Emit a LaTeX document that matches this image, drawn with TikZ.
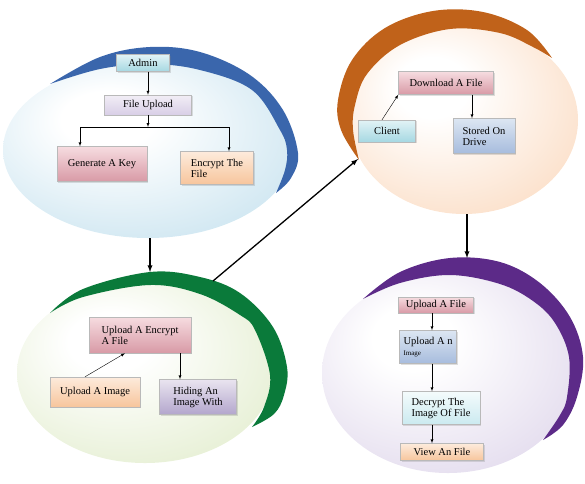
\documentclass[tikz,border=0pt]{standalone}
\usepackage{fontspec}
\setmainfont{Liberation Serif}
\usepackage{tikz}
\usetikzlibrary{shapes.geometric,shadows}

\definecolor{rimblue}{HTML}{3A66AC}
\definecolor{rimorange}{HTML}{C0621A}
\definecolor{rimgreen}{HTML}{0A7A3A}
\definecolor{rimpurple}{HTML}{5C2A88}
\definecolor{stageedge}{HTML}{AFD6E8}
\pgfdeclareradialshading[stageedge]{glow}{\pgfpoint{-8bp}{10bp}}{color(0bp)=(white); color(8bp)=(white); color(50bp)=(stageedge); color(60bp)=(stageedge)}

\begin{document}
\begin{tikzpicture}[x=1pt, y=-1pt]
    \tikzstyle{stage} = [ellipse, draw=none, inner sep=0pt, shading=glow]
    \tikzstyle{box} = [rectangle, draw=gray!55, inner sep=2pt, align=left, font=\fontsize{10.5}{11}\selectfont,
        drop shadow={shadow xshift=1pt, shadow yshift=-1pt, opacity=0.25, fill=gray}]
    \tikzstyle{cyanbox} = [box, top color={rgb,255:red,226;green,243;blue,246}, bottom color={rgb,255:red,166;green,216;blue,226}]
    \tikzstyle{lilacbox} = [box, top color={rgb,255:red,242;green,238;blue,246}, bottom color={rgb,255:red,216;green,206;blue,230}]
    \tikzstyle{pinkbox} = [box, top color={rgb,255:red,246;green,220;blue,224}, bottom color={rgb,255:red,216;green,154;blue,166}]
    \tikzstyle{peachbox} = [box, top color={rgb,255:red,253;green,235;blue,220}, bottom color={rgb,255:red,247;green,197;blue,156}]
    \tikzstyle{bluebox} = [box, top color={rgb,255:red,220;green,230;blue,242}, bottom color={rgb,255:red,167;green,188;blue,221}]
    \tikzstyle{purplebox} = [box, top color={rgb,255:red,233;green,228;blue,240}, bottom color={rgb,255:red,179;green,166;blue,204}]
    \tikzstyle{icebox} = [box, top color={rgb,255:red,244;green,251;blue,252}, bottom color={rgb,255:red,203;green,234;blue,240}]
    \tikzstyle{link} = [->, >=latex, thin, black]
    \tikzstyle{flow} = [->, >=latex, line width=1.3pt, black]

    \useasboundingbox (0,0) rectangle (585,483);

    % the four stages, each with its crescent
    \definecolor{stageedge}{HTML}{AFD6E8}
    \node[stage, minimum width=290pt, minimum height=176pt] (s1) at (148,150) {};
    \fill[rimblue] plot[smooth, tension=0.6] coordinates {(50,84) (100,57) (150,47) (200,52) (250,75) (283,110) (298,153) (291,178) (276,193)}
        -- plot[smooth, tension=0.6] coordinates {(276,193) (285,170) (287,150) (280,130) (252,90) (200,70) (150,64) (100,69) (50,84)} -- cycle;

    \definecolor{stageedge}{HTML}{F9CBA6}
    \node[stage, minimum width=228pt, minimum height=188pt] (s2) at (464,120) {};
    \fill[rimorange] plot[smooth, tension=0.6] coordinates {(359,160) (341,130) (338,100) (352,60) (385,28) (433,11) (483,12) (527,30) (552,58)}
        -- plot[smooth, tension=0.6] coordinates {(552,58) (533,47) (500,33) (450,29) (400,45) (367,74) (355,105) (353,130) (359,160)} -- cycle;

    \definecolor{stageedge}{HTML}{D6E5B8}
    \node[stage, minimum width=256pt, minimum height=180pt] (s3) at (145,373) {};
    \fill[rimgreen] plot[smooth, tension=0.6] coordinates {(50,313) (83,289) (150,272) (200,277) (240,293) (273,327) (287,367) (284,395) (274,414) (252,427)}
        -- plot[smooth, tension=0.6] coordinates {(252,427) (264,407) (270,375) (255,330) (240,315) (200,294) (150,285) (83,297) (50,313)} -- cycle;

    \definecolor{stageedge}{HTML}{D2C6E3}
    \node[stage, minimum width=252pt, minimum height=200pt] (s4) at (448,373) {};
    \fill[rimpurple] plot[smooth, tension=0.6] coordinates {(363,299) (400,272) (450,258) (500,262) (540,283) (570,317) (583,357) (577,397) (563,425) (543,440)}
        -- plot[smooth, tension=0.6] coordinates {(543,440) (560,415) (567,397) (569,357) (555,323) (533,301) (500,284) (450,275) (400,283) (363,299)} -- cycle;

    % admin side
    \node[cyanbox, minimum width=53pt, minimum height=17pt] (admin) at (143,63) {Admin};
    \node[lilacbox, minimum width=87pt, minimum height=20pt] (upload) at (148,105) {File Upload};
    \node[pinkbox, minimum width=90pt, minimum height=35pt] (genkey) at (102,164) {Generate A Key};
    \node[peachbox, minimum width=73pt, minimum height=33pt] (encrypt) at (217,168) {Encrypt The\\File};
    \coordinate (split) at (148,127);
    \draw[link] ([xshift=5pt]admin.south) -- ([xshift=5pt]admin.south |- upload.north);
    \draw[link] (upload.south) -- (split);
    \draw[link] (split) -| ([xshift=-22pt]genkey.north);
    \draw[link] (split) -| ([xshift=12pt]encrypt.north);

    % client side
    \node[pinkbox, minimum width=95pt, minimum height=23pt] (download) at (446,83) {Download A File};
    \node[cyanbox, minimum width=57pt, minimum height=22pt] (client) at (387,131) {Client};
    \node[bluebox, minimum width=62pt, minimum height=35pt] (stored) at (484,136) {Stored On\\Drive};
    \draw[link] ([xshift=-5pt]client.north) -- (download.south west);
    \draw[link] ([xshift=-12pt]stored.north |- download.south) -- ([xshift=-12pt]stored.north);

    % hiding
    \node[pinkbox, minimum width=102pt, minimum height=36pt] (upenc) at (140,335) {Upload A Encrypt\\A File};
    \node[peachbox, minimum width=90pt, minimum height=30pt] (upimg) at (95,392) {Upload A Image};
    \node[purplebox, minimum width=77pt, minimum height=35pt] (hiding) at (198,397) {Hiding An\\Image With};
    \draw[link] ([xshift=-10pt]upimg.north) -- ([xshift=-15pt]upenc.south);
    \draw[link] ([xshift=-18pt]hiding.north |- upenc.south) -- ([xshift=-18pt]hiding.north);

    % decrypting
    \node[pinkbox, minimum width=75pt, minimum height=16pt] (upfile) at (436,305) {Upload A File};
    \node[bluebox, minimum width=57pt, minimum height=33pt] (upimage) at (428,347) {Upload A n\\{\fontsize{7}{8}\selectfont Image}};
    \node[icebox, minimum width=78pt, minimum height=33pt] (decrypt) at (441,408) {Decrypt The\\Image Of File};
    \node[peachbox, minimum width=83pt, minimum height=17pt] (view) at (442,452) {View An File};
    \coordinate (spine) at (432,0);
    \foreach \a/\b in {upfile/upimage, upimage/decrypt, decrypt/view} {
        \draw[link] (\a.south -| spine) -- (\b.north -| spine);
    }

    % between the stages
    \coordinate (greentop) at (150,272);
    \coordinate (greenedge) at (213,281);
    \coordinate (orangetip) at (358,159);
    \coordinate (purpletop) at (467,258);
    \draw[flow] (greentop |- s1.south) -- (greentop);
    \draw[flow] (greenedge) -- (orangetip);
    \draw[flow] (purpletop |- s2.south) -- (purpletop);
\end{tikzpicture}
\end{document}
